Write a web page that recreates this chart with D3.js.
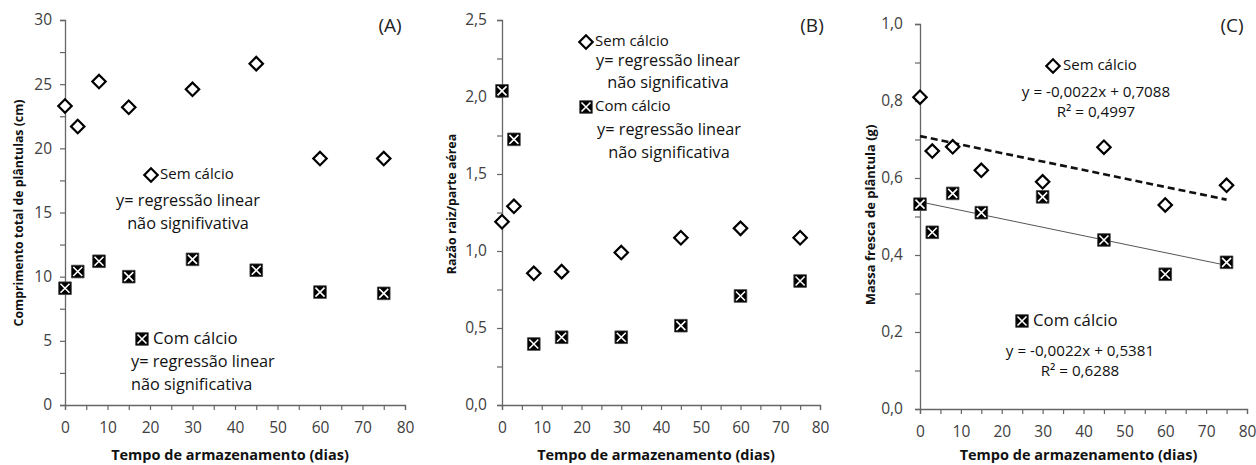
<!DOCTYPE html>
<html><head><meta charset="utf-8">
<script src="https://cdn.jsdelivr.net/npm/d3@7"></script>
<style>
body{margin:0;background:#fff;}
text{font-family:"Open Sans",sans-serif;}
</style></head>
<body><svg id="c" width="1256" height="465"></svg>
<script>
const days = [0, 3, 8, 15, 30, 45, 60, 75];
// Panel A: Comprimento total de plântulas (cm)
const aSem = [23.3, 21.7, 25.2, 23.2, 24.6, 26.6, 19.2, 19.2];
const aCom = [9.1, 10.4, 11.2, 10.0, 11.35, 10.5, 8.8, 8.7];
// Panel B: Razão raiz/parte aérea
const bSem = [1.19, 1.29, 0.855, 0.866, 0.99, 1.086, 1.147, 1.086];
const bCom = [2.04, 1.725, 0.396, 0.44, 0.44, 0.515, 0.708, 0.805];
// Panel C: Massa fresca de plântula (g)
const cSem = [0.81, 0.67, 0.681, 0.62, 0.59, 0.68, 0.53, 0.581];
const cCom = [0.532, 0.459, 0.56, 0.51, 0.551, 0.439, 0.35, 0.381];
// regressions panel C
const regSem = {a: -0.0022, b: 0.7088};
const regCom = {a: -0.0022, b: 0.5381};
const xTicks = [0,10,20,30,40,50,60,70,80];
const xMinor = [5,15,25,35,45,55,65,75];
const aTicks = [0,5,10,15,20,25,30];
const bTicks = [0,0.5,1.0,1.5,2.0,2.5];
const cTicks = [0,0.2,0.4,0.6,0.8,1.0];

const svg = d3.select("#c");
const fmt1 = d3.format(".1f");
const comma = v => fmt1(v).replace(".", ",");

function panel(o){
  const g = svg.append("g");
  const x = d3.scaleLinear().domain([0,80]).range([o.x0, o.x1]);
  const y = d3.scaleLinear().domain([0,o.ymax]).range([o.y0, o.y1]);
  g.append("g").attr("transform",`translate(0,${o.y0})`)
    .call(d3.axisBottom(x).tickValues(xTicks).tickSize(5).tickPadding(12).tickFormat(d3.format("d")));
  g.append("g").attr("transform",`translate(0,${o.y0})`)
    .call(d3.axisBottom(x).tickValues(xMinor).tickSize(5).tickFormat(""))
    .select(".domain").remove();
  g.append("g").attr("transform",`translate(${o.x0},0)`)
    .call(d3.axisLeft(y).tickValues(o.ticks).tickSize(5).tickPadding(o.ypad).tickFormat(o.fmt));
  g.append("g").attr("transform",`translate(${o.x0},0)`)
    .call(d3.axisLeft(y).tickValues(o.minor).tickSize(5).tickFormat(""))
    .select(".domain").remove();
  g.selectAll(".domain").attr("stroke","#666").attr("stroke-width",1.3);
  g.selectAll(".tick line").attr("stroke","#666").attr("stroke-width",1.2);
  g.selectAll(".tick text").attr("fill","#404040").style("font-size","15.5px").style("font-family","Open Sans");
  g.append("text").attr("x",(o.x0+o.x1)/2 - 5).attr("y",o.xtY).attr("text-anchor","middle")
    .style("font-size","14.5px").style("font-weight","bold").attr("fill","#111").text("Tempo de armazenamento (dias)");
  g.append("text").attr("transform",`translate(${o.ytX},${o.ytY}) rotate(-90)`).attr("text-anchor","middle")
    .style("font-size",o.ytSize+"px").style("font-weight","bold").attr("fill","#111").text(o.ytitle);
  g.append("text").attr("x",o.labX).attr("y",32).attr("text-anchor","middle")
    .style("font-size","19px").attr("fill","#222").text(o.lab);
  (o.regs||[]).forEach(r=>{
    g.append("line").attr("x1",x(0)).attr("x2",x(75)).attr("y1",y(r.a*0+r.b)).attr("y2",y(r.a*75+r.b))
      .attr("stroke",r.dash?"#111":"#555").attr("stroke-width",r.dash?2.6:1).attr("stroke-dasharray",r.dash?"7,4":null);
  });
  const pts = (vals)=>days.map((d,i)=>({x:d,y:vals[i]}));
  drawDiamonds(g, pts(o.sem).map(p=>[x(p.x),y(p.y)]));
  drawSquares(g, pts(o.com).map(p=>[x(p.x),y(p.y)]));
  return {g,x,y};
}
const diamondPath = d3.symbol(d3.symbolSquare, 90)();
const squarePath = d3.symbol(d3.symbolSquare, 160)();
function drawDiamonds(g, arr){
  g.append("g").selectAll("path").data(arr).join("path")
    .attr("d",diamondPath).attr("transform",d=>`translate(${d[0]},${d[1]}) rotate(45)`)
    .attr("fill","#fff").attr("stroke","#000").attr("stroke-width",2.2);
}
function drawSquares(g, arr){
  const s = g.append("g").selectAll("g").data(arr).join("g").attr("transform",d=>`translate(${d[0]},${d[1]})`);
  s.append("path").attr("d",squarePath).attr("fill","#000").attr("stroke","#444").attr("stroke-width",0.8);
  s.append("path").attr("d","M-4.5,-4.5L4.5,4.5M4.5,-4.5L-4.5,4.5").attr("stroke","#fff").attr("stroke-width",1.6);
}
function txt(g,xp,yp,t,size,anchor){
  return g.append("text").attr("x",xp).attr("y",yp).attr("text-anchor",anchor||"start")
    .attr("dominant-baseline","middle").style("font-size",(size||16)+"px").attr("fill","#111").text(t);
}

// Panel A
const A = panel({x0:65,x1:405,y0:405,y1:20,ymax:30,ticks:aTicks,minor:[2.5,7.5,12.5,17.5,22.5,27.5],ypad:8,
  fmt:d3.format("d"),ytitle:"Comprimento total de plântulas (cm)",ytSize:12.3,ytX:23,ytY:213,xtY:460,lab:"(A)",labX:390,
  sem:aSem,com:aCom});
drawDiamonds(A.g,[[151,175]]);
txt(A.g,160,175,"Sem cálcio",15);
txt(A.g,188,202,"y= regressão linear",16.3,"middle");
txt(A.g,188,225,"não signifivativa",16.3,"middle");
drawSquares(A.g,[[142,339]]);
txt(A.g,153,339,"Com cálcio",16.8);
txt(A.g,131,363,"y= regressão linear",16.3);
txt(A.g,131,386,"não significativa",16.3);

// Panel B
const B = panel({x0:502,x1:820,y0:405,y1:20,ymax:2.5,ticks:bTicks,minor:[0.25,0.75,1.25,1.75,2.25],ypad:10,
  fmt:comma,ytitle:"Razão raiz/parte aérea",ytSize:12.4,ytX:456,ytY:204,xtY:460,lab:"(B)",labX:812,
  sem:bSem,com:bCom});
drawDiamonds(B.g,[[586,42]]);
txt(B.g,595,42,"Sem cálcio",15);
txt(B.g,668,62,"y= regressão linear",16.3,"middle");
txt(B.g,668,84,"não significativa",16.3,"middle");
drawSquares(B.g,[[586,107]]);
txt(B.g,595,107,"Com cálcio",15);
txt(B.g,669,131,"y= regressão linear",16.3,"middle");
txt(B.g,669,154,"não significativa",16.3,"middle");

// Panel C
const C = panel({x0:920,x1:1247,y0:409,y1:24,ymax:1.0,ticks:cTicks,minor:[0.1,0.3,0.5,0.7,0.9],ypad:12,
  fmt:comma,ytitle:"Massa fresca de plântula (g)",ytSize:13,ytX:875,ytY:215,xtY:460,lab:"(C)",labX:1232,
  sem:cSem,com:cCom,regs:[{a:regSem.a,b:regSem.b,dash:true},{a:regCom.a,b:regCom.b,dash:false}]});
drawDiamonds(C.g,[[1053,66]]);
txt(C.g,1063,66,"Sem cálcio",15);
txt(C.g,1096,93,"y = -0,0022x + 0,7088",15.2,"middle");
txt(C.g,1096,113,"R² = 0,4997",15.2,"middle");
drawSquares(C.g,[[1022,321]]);
txt(C.g,1033,321,"Com cálcio",16.8);
txt(C.g,1080,352,"y = -0,0022x + 0,5381",15.2,"middle");
txt(C.g,1080,372,"R² = 0,6288",15.2,"middle");
</script></body></html>
